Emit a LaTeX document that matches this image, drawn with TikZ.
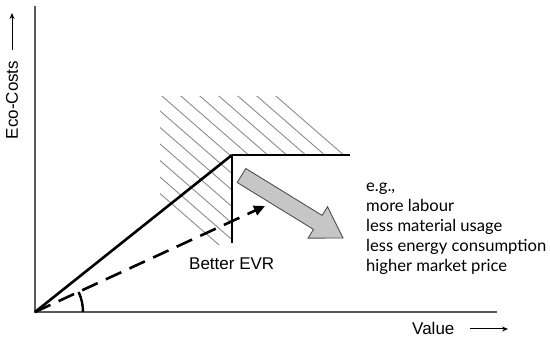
\documentclass[tikz,border=0pt]{standalone}
\usepackage{fontspec}
\setmainfont{Liberation Sans}
\newfontfamily\notefont{Lato}
\usetikzlibrary{arrows.meta,calc}
\definecolor{axisgray}{HTML}{5A5A5A}
\definecolor{hatchgray}{HTML}{8C8C8C}
\definecolor{blockfill}{HTML}{C6C6C6}
\definecolor{blockedge}{HTML}{505050}
\tikzset{
  axisline/.style={draw=axisgray, line width=1.8pt},
  labeltext/.style={font=\fontsize{17}{20}\selectfont, inner sep=0pt},
  notetext/.style={font=\notefont\fontsize{16.6}{20}\selectfont, inner sep=0pt, anchor=base west},
  smallarrow/.style={draw=black, line width=1pt, -{Stealth[length=6pt,width=5pt]}},
  hatchline/.style={draw=hatchgray, line width=0.9pt},
  thickline/.style={draw=black, line width=2.6pt},
  dasharrow/.style={draw=black, line width=2.6pt, dash pattern=on 17pt off 9pt, -{Triangle[length=11pt,width=10pt]}},
  anglearc/.style={draw=black, line width=2.4pt},
  blockarrow/.style={fill=blockfill, draw=blockedge, line width=0.9pt, line join=miter}
}
\begin{document}
\begin{tikzpicture}[x=1pt, y=-1pt]
\useasboundingbox (0,0) rectangle (550,339);
% key points
\coordinate (O) at (35,312);
\coordinate (Ytop) at (35,6);
\coordinate (Xend) at (497,312);
\coordinate (C) at (232,155);
\coordinate (H) at (350,155);
\coordinate (V) at (232,243);
\coordinate (D) at (265,206);
\coordinate (A0) at (83,312);
% hatching
\begin{scope}
  \clip (160,96) -- (352,96) -- (352,155) -- (232,155) -- (232,245) -- (160,245) -- cycle;
  \foreach \k in {-6,...,6} {
    \pgfmathsetmacro{\xo}{163+19*\k}
    \draw[hatchline] (\xo-120, 97-0.87*120) -- (\xo+200, 97+0.87*200);
  }
\end{scope}
% axes
\draw[axisline] (Ytop) -- (O) -- (Xend);
% main lines
\draw[thickline, line join=miter] (O) -- (C);
\draw[thickline] (C) -- (H);
\draw[thickline] (C) -- (V);
% dashed arrow
\draw[dasharrow] (O) -- (D);
% angle arc
\draw[anglearc] (A0) arc[start angle=0, end angle=-24.7, radius=48];
% block arrow
\draw[blockarrow] (245.8,168.5) -- (322.1,215.4) -- (327.5,206.7) -- (343,238) -- (308.1,238.1) -- (313.5,229.4) -- (237.2,182.5) -- cycle;
% labels
\node[labeltext, rotate=90] (ylab) at (12,100) {Eco-Costs};
\coordinate (ya1) at (12,50);
\coordinate (ya2) at (12,13);
\draw[smallarrow] (ya1) -- (ya2);
\node[labeltext, anchor=base west] (xlab) at (412,335) {Value};
\coordinate (xa1) at (470,329);
\coordinate (xa2) at (508,329);
\draw[smallarrow] (xa1) -- (xa2);
\node[labeltext, anchor=base west] (evr) at (189,270) {Better EVR};
% notes
\node[notetext] (n1) at (366,192) {e.g.,};
\node[notetext] (n2) at (366,212) {more labour};
\node[notetext] (n3) at (366,232) {less material usage};
\node[notetext] (n4) at (366,252) {less energy consumption};
\node[notetext] (n5) at (366,272) {higher market price};
\end{tikzpicture}
\end{document}
